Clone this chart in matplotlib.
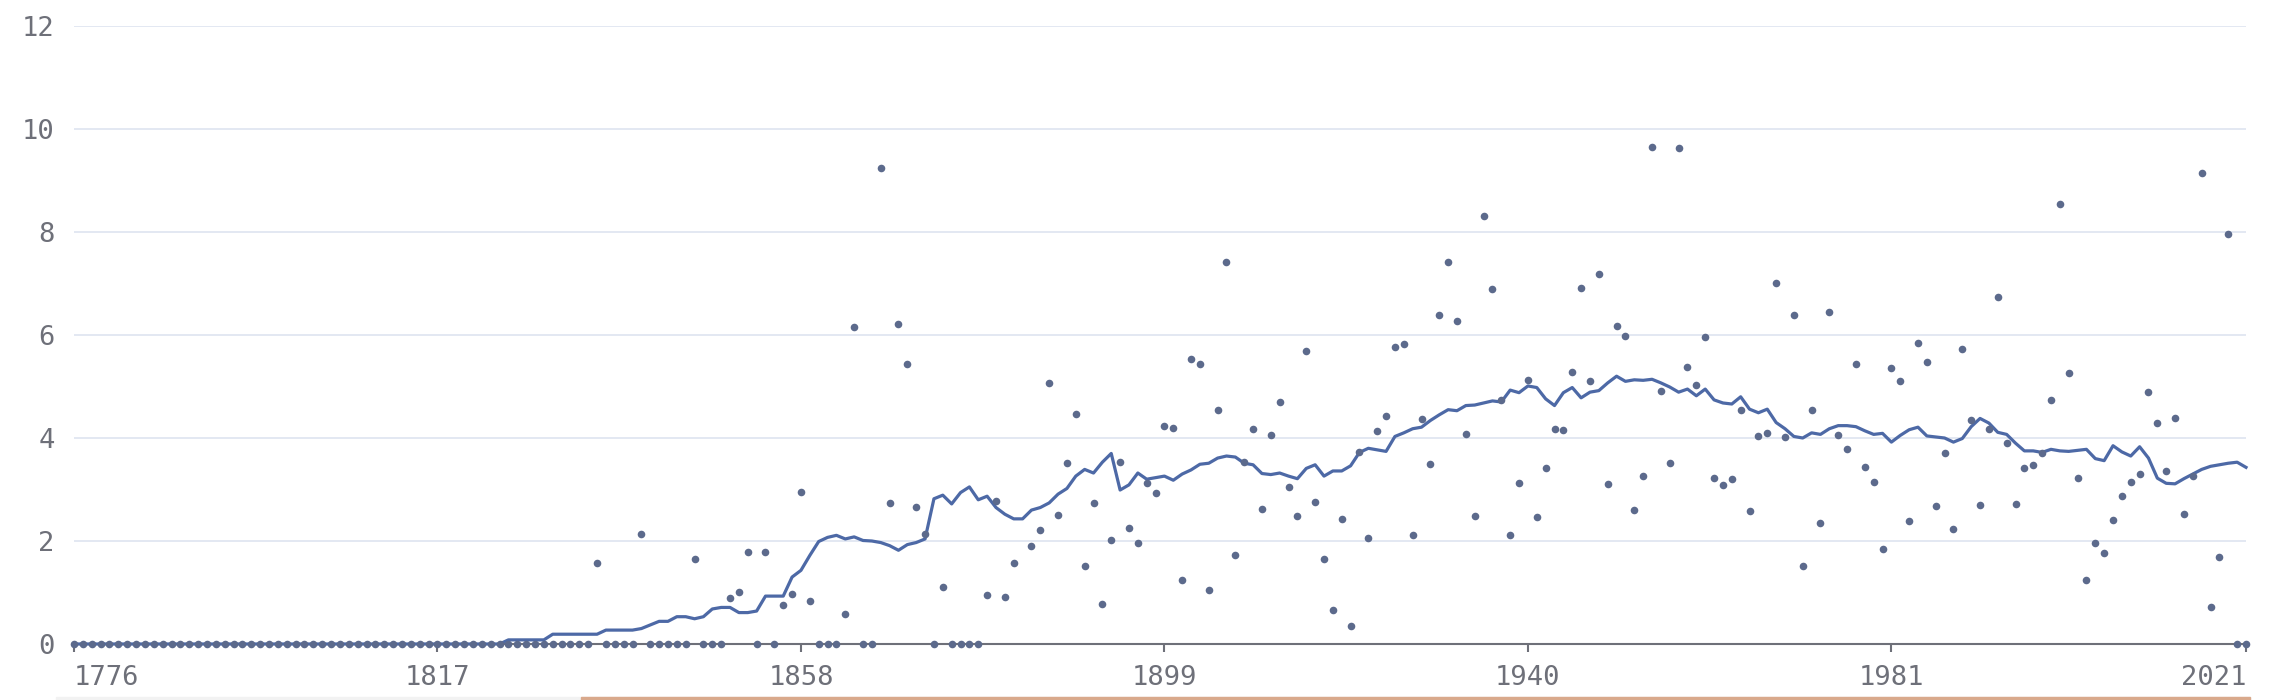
import numpy as np
import matplotlib.pyplot as plt
from matplotlib.patches import Rectangle

plt.rcParams['font.family'] = ['DejaVu Sans Mono', 'DejaVu Sans']

years = list(range(1776, 2022))

# yearly values (dots), one row per decade; 1883 has no value
values = [
    0, 0, 0, 0, 0, 0, 0, 0, 0, 0,                              # 1776
    0, 0, 0, 0, 0, 0, 0, 0, 0, 0,                              # 1786
    0, 0, 0, 0, 0, 0, 0, 0, 0, 0,                              # 1796
    0, 0, 0, 0, 0, 0, 0, 0, 0, 0,                              # 1806
    0, 0, 0, 0, 0, 0, 0, 0, 0, 0,                              # 1816
    0, 0, 0, 0, 0, 0, 0, 0, 0, 1.57,                           # 1826
    0, 0, 0, 0, 2.13, 0, 0, 0, 0, 0,                           # 1836
    1.65, 0, 0, 0, 0.90, 1.01, 1.78, 0, 1.78, 0,               # 1846
    0.76, 0.98, 2.96, 0.84, 0, 0, 0, 0.59, 6.16, 0,            # 1856
    0, 9.24, 2.73, 6.22, 5.44, 2.66, 2.14, 0, 1.10, 0,         # 1866
    0, 0, 0, 0.96, 2.78, 0.91, 1.57, np.nan, 1.91, 2.22,       # 1876
    5.07, 2.51, 3.51, 4.46, 1.52, 2.74, 0.77, 2.02, 3.53, 2.25,  # 1886
    1.96, 3.13, 2.93, 4.24, 4.19, 1.25, 5.54, 5.43, 1.05, 4.54,  # 1896
    7.41, 1.73, 3.53, 4.17, 2.62, 4.05, 4.70, 3.05, 2.49, 5.68,  # 1906
    2.76, 1.65, 0.66, 2.43, 0.35, 3.73, 2.06, 4.14, 4.43, 5.76,  # 1916
    5.83, 2.12, 4.36, 3.49, 6.39, 7.42, 6.27, 4.08, 2.49, 8.32,  # 1926
    6.89, 4.73, 2.12, 3.13, 5.13, 2.47, 3.41, 4.18, 4.16, 5.29,  # 1936
    6.92, 5.11, 7.19, 3.11, 6.18, 5.98, 2.61, 3.27, 9.65, 4.92,  # 1946
    3.51, 9.64, 5.38, 5.02, 5.96, 3.22, 3.09, 3.20, 4.55, 2.59,  # 1956
    4.03, 4.09, 7.01, 4.01, 6.39, 1.51, 4.54, 2.35, 6.45, 4.05,  # 1966
    3.78, 5.43, 3.43, 3.14, 1.84, 5.36, 5.11, 2.38, 5.84, 5.47,  # 1976
    2.67, 3.71, 2.24, 5.73, 4.34, 2.70, 4.18, 6.73, 3.91, 2.71,  # 1986
    3.41, 3.47, 3.70, 4.74, 8.55, 5.26, 3.23, 1.24, 1.97, 1.77,  # 1996
    2.41, 2.88, 3.14, 3.31, 4.89, 4.29, 3.35, 4.39, 2.52, 3.26,  # 2006
    9.14, 0.71, 1.69, 7.96, 0, 0,                                # 2016
]

# smoothed trend line
trend = [
    0, 0, 0, 0, 0, 0, 0, 0, 0, 0,                                # 1776
    0, 0, 0, 0, 0, 0, 0, 0, 0, 0,                                # 1786
    0, 0, 0, 0, 0, 0, 0, 0, 0, 0,                                # 1796
    0, 0, 0, 0, 0, 0, 0, 0, 0, 0,                                # 1806
    0, 0, 0, 0, 0, 0, 0, 0, 0, 0.08,                             # 1816
    0.08, 0.08, 0.08, 0.08, 0.19, 0.19, 0.19, 0.19, 0.19, 0.19,  # 1826
    0.27, 0.27, 0.27, 0.27, 0.30, 0.37, 0.44, 0.44, 0.53, 0.53,  # 1836
    0.49, 0.53, 0.68, 0.71, 0.71, 0.61, 0.61, 0.64, 0.93, 0.93,  # 1846
    0.93, 1.30, 1.43, 1.72, 1.99, 2.07, 2.11, 2.04, 2.08, 2.01,  # 1856
    2.00, 1.97, 1.91, 1.82, 1.93, 1.97, 2.04, 2.82, 2.89, 2.72,  # 1866
    2.94, 3.05, 2.80, 2.87, 2.65, 2.52, 2.43, 2.43, 2.60, 2.65,  # 1876
    2.74, 2.91, 3.02, 3.26, 3.39, 3.32, 3.53, 3.70, 2.99, 3.09,  # 1886
    3.32, 3.20, 3.23, 3.26, 3.18, 3.30, 3.38, 3.49, 3.51, 3.61,  # 1896
    3.65, 3.63, 3.51, 3.48, 3.31, 3.29, 3.32, 3.26, 3.21, 3.41,  # 1906
    3.48, 3.26, 3.36, 3.36, 3.46, 3.72, 3.80, 3.77, 3.74, 4.03,  # 1916
    4.10, 4.18, 4.21, 4.34, 4.45, 4.55, 4.53, 4.63, 4.64, 4.68,  # 1926
    4.72, 4.70, 4.93, 4.88, 5.01, 4.98, 4.76, 4.63, 4.88, 4.98,  # 1936
    4.78, 4.89, 4.92, 5.07, 5.20, 5.10, 5.13, 5.12, 5.14, 5.07,  # 1946
    4.99, 4.89, 4.95, 4.82, 4.95, 4.74, 4.68, 4.66, 4.80, 4.56,  # 1956
    4.49, 4.56, 4.30, 4.18, 4.03, 4.00, 4.10, 4.07, 4.18, 4.24,  # 1966
    4.24, 4.22, 4.14, 4.07, 4.09, 3.92, 4.05, 4.16, 4.21, 4.04,  # 1976
    4.02, 4.00, 3.92, 3.99, 4.22, 4.38, 4.29, 4.11, 4.07, 3.90,  # 1986
    3.75, 3.75, 3.72, 3.78, 3.75, 3.74, 3.76, 3.78, 3.60, 3.56,  # 1996
    3.85, 3.73, 3.65, 3.83, 3.61, 3.22, 3.12, 3.11, 3.21, 3.30,  # 2006
    3.39, 3.45, 3.48, 3.51, 3.53, 3.43,                          # 2016
]

xtick_years = [1776, 1817, 1858, 1899, 1940, 1981, 2021]
yticks = [0, 2, 4, 6, 8, 10, 12]

W, H = 2270, 700
fig = plt.figure(figsize=(W / 100, H / 100), dpi=100)
ax = fig.add_axes([74 / W, 56 / H, (2246 - 74) / W, (644 - 26) / H])

ax.plot(years, trend, color='#4d69a6', lw=2.3, zorder=2, clip_on=False)
ax.scatter(years, values, s=30, color='#5c6a8c', linewidths=0, zorder=3, clip_on=False)

ax.set_xlim(years[0], years[-1])
ax.set_ylim(0, 12)
ax.set_yticks(yticks)
ax.set_xticks(xtick_years)
ax.set_xticklabels([str(y) for y in xtick_years])
ax.grid(axis='y', color='#e0e6f1', lw=1.3, zorder=0)
ax.set_axisbelow(True)

for s in ['top', 'right', 'left']:
    ax.spines[s].set_visible(False)
ax.spines['bottom'].set_color('#6e7079')
ax.spines['bottom'].set_linewidth(1.5)
ax.spines['bottom'].set_zorder(1)

ax.tick_params(axis='x', length=6, width=1.5, color='#6e7079', pad=9,
               labelsize=19.5, labelcolor='#6e7079')
ax.tick_params(axis='y', length=0, pad=14, labelsize=19.5, labelcolor='#6e7079')
xl = ax.get_xticklabels()
xl[0].set_ha('left')
xl[-1].set_ha('right')

# strip of the page below the chart
fig.patches.append(Rectangle((56 / W, 0), (2250 - 56) / W, 3 / H,
                             transform=fig.transFigure, color='#f2f2f2', zorder=0))
fig.patches.append(Rectangle((581 / W, 0), (2250 - 581) / W, 3 / H,
                             transform=fig.transFigure, color='#d9a98c', zorder=0))

fig.savefig('out.png', dpi=100)
